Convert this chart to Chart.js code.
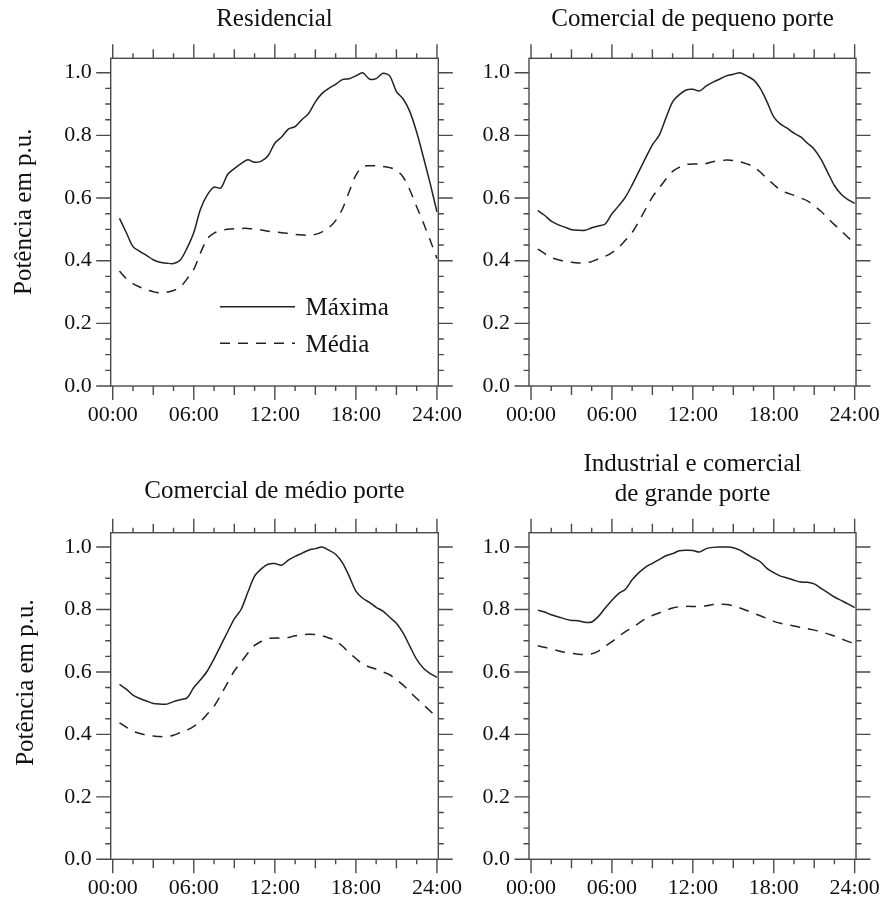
<!DOCTYPE html>
<html><head><meta charset="utf-8">
<script src="https://cdn.jsdelivr.net/npm/chart.js@4/dist/chart.umd.min.js"></script>
<style>
html,body{margin:0;padding:0;background:#fff;}
#wrap{position:relative;width:884px;height:903px;overflow:hidden;}
canvas{position:absolute;}
</style></head><body>
<div id="wrap">
<canvas id="c1" width="475" height="440" style="left:0;top:0"></canvas>
<canvas id="c2" width="442" height="440" style="left:442px;top:0"></canvas>
<canvas id="c3" width="475" height="463" style="left:0;top:440px"></canvas>
<canvas id="c4" width="442" height="463" style="left:442px;top:440px"></canvas>
</div>
<script>
// ---------- DATA ----------
const hours = [0.5,1,1.5,2,2.5,3,3.5,4,4.5,5,5.5,6,6.5,7,7.5,8,8.5,9,9.5,10,10.5,11,11.5,12,
  12.5,13,13.5,14,14.5,15,15.5,16,16.5,17,17.5,18,18.5,19,19.5,20,20.5,21,21.5,22,22.5,23,23.5,24];

const residencialMax = [0.535,0.49,0.445,0.43,0.417,0.403,0.395,0.392,0.391,0.402,0.44,0.49,
  0.565,0.61,0.635,0.632,0.675,0.694,0.71,0.722,0.714,0.718,0.735,0.775,
  0.795,0.82,0.828,0.85,0.87,0.907,0.934,0.95,0.963,0.978,0.981,0.99,
  1.0,0.98,0.981,0.998,0.99,0.94,0.916,0.875,0.81,0.73,0.646,0.556];
const residencialMed = [0.367,0.343,0.327,0.316,0.307,0.301,0.297,0.299,0.305,0.316,0.342,0.372,
  0.425,0.47,0.488,0.496,0.5,0.502,0.503,0.503,0.501,0.498,0.494,0.492,
  0.489,0.487,0.484,0.482,0.481,0.484,0.492,0.505,0.528,0.565,0.62,0.673,
  0.70,0.703,0.703,0.701,0.697,0.689,0.667,0.625,0.572,0.52,0.465,0.407];

const pequenoMax = [0.56,0.545,0.526,0.515,0.507,0.499,0.497,0.497,0.505,0.511,0.517,0.55,
  0.575,0.603,0.642,0.685,0.728,0.77,0.80,0.855,0.907,0.93,0.945,0.947,
  0.942,0.958,0.97,0.98,0.99,0.995,1.0,0.99,0.977,0.95,0.907,0.859,
  0.836,0.823,0.807,0.795,0.775,0.756,0.724,0.682,0.64,0.612,0.595,0.583];
const pequenoMed = [0.437,0.423,0.41,0.403,0.398,0.395,0.393,0.393,0.397,0.406,0.414,0.426,
  0.442,0.465,0.49,0.526,0.565,0.603,0.632,0.66,0.685,0.698,0.707,0.709,
  0.708,0.71,0.716,0.719,0.721,0.72,0.716,0.709,0.70,0.683,0.662,0.643,
  0.625,0.616,0.609,0.60,0.591,0.575,0.558,0.536,0.515,0.495,0.475,0.455];

const medioMax = [0.56,0.545,0.526,0.515,0.507,0.499,0.497,0.497,0.505,0.511,0.517,0.55,
  0.575,0.603,0.642,0.685,0.728,0.77,0.80,0.855,0.907,0.93,0.945,0.947,
  0.942,0.958,0.97,0.98,0.99,0.995,1.0,0.99,0.977,0.95,0.907,0.859,
  0.836,0.823,0.807,0.795,0.775,0.756,0.724,0.682,0.64,0.612,0.595,0.583];
const medioMed = [0.437,0.423,0.41,0.403,0.398,0.395,0.393,0.393,0.397,0.406,0.414,0.426,
  0.442,0.465,0.49,0.526,0.565,0.603,0.632,0.66,0.685,0.698,0.707,0.709,
  0.708,0.71,0.716,0.719,0.721,0.72,0.716,0.709,0.70,0.683,0.662,0.643,
  0.625,0.616,0.609,0.60,0.591,0.575,0.558,0.536,0.515,0.495,0.475,0.455];

const grandeMax = [0.798,0.792,0.783,0.777,0.77,0.765,0.764,0.759,0.76,0.778,0.805,0.83,
  0.851,0.865,0.895,0.918,0.936,0.948,0.96,0.972,0.979,0.988,0.99,0.989,
  0.984,0.995,0.999,1.0,1.0,0.998,0.99,0.977,0.965,0.953,0.932,0.918,
  0.907,0.901,0.894,0.888,0.887,0.882,0.868,0.854,0.84,0.829,0.818,0.806];
const grandeMed = [0.684,0.679,0.673,0.668,0.663,0.66,0.657,0.656,0.658,0.667,0.682,0.697,
  0.714,0.729,0.742,0.756,0.771,0.781,0.789,0.797,0.805,0.809,0.81,0.81,
  0.81,0.812,0.816,0.817,0.816,0.812,0.805,0.797,0.788,0.78,0.771,0.762,
  0.756,0.752,0.747,0.743,0.739,0.734,0.729,0.722,0.715,0.706,0.698,0.69];

const xTickValues = [0,6,12,18,24];
const xTickLabels = ['00:00','06:00','12:00','18:00','24:00'];
const yTickValues = [0,0.2,0.4,0.6,0.8,1.0];
const yTickLabels = ['0.0','0.2','0.4','0.6','0.8','1.0'];
const seriesNames = ['Máxima','Média'];
const yAxisTitle = 'Potência em p.u.';
const titles = [['Residencial'],['Comercial de pequeno porte'],['Comercial de médio porte'],['Industrial e comercial','de grande porte']];

// ---------- RENDER ----------
const FONT = "'Liberation Serif','Times New Roman',serif";
const INK = '#111';
const LINE = '#222';
const FRAME = '#4a4a4a';

const framePlugin = {
  id: 'frame',
  afterDatasetsDraw(chart, args, o) {
    const {ctx, chartArea: a, scales: {x, y}} = chart;
    ctx.save();
    ctx.strokeStyle = FRAME;
    ctx.lineWidth = 1.4;
    ctx.strokeRect(a.left, a.top, a.right - a.left, a.bottom - a.top);
    ctx.beginPath();
    for (let k = 0; k <= 16; k++) {
      const v = k * 1.5;
      const px = x.getPixelForValue(v);
      const len = (k % 4 === 0) ? 14 : (k % 2 === 0 ? 9 : 5);
      ctx.moveTo(px, a.bottom); ctx.lineTo(px, a.bottom + len);
      ctx.moveTo(px, a.top); ctx.lineTo(px, a.top - len);
    }
    for (let k = 0; k <= 20; k++) {
      const py = y.getPixelForValue(k * 0.05);
      const len = (k % 4 === 0) ? 14.5 : 5.5;
      ctx.moveTo(a.left, py); ctx.lineTo(a.left - len, py);
      ctx.moveTo(a.right, py); ctx.lineTo(a.right + len, py);
    }
    ctx.stroke();
    // y axis title
    ctx.fillStyle = INK;
    ctx.font = '25px ' + FONT;
    ctx.textAlign = 'center';
    ctx.textBaseline = 'middle';
    ctx.translate(o.yTitleX, o.yTitleY);
    ctx.rotate(-Math.PI / 2);
    ctx.fillText(yAxisTitle, 0, 0);
    ctx.restore();
    // legend
    if (o.legend) {
      const ds = chart.data.datasets;
      ctx.save();
      ctx.font = '25px ' + FONT;
      ctx.fillStyle = INK;
      ctx.textAlign = 'left';
      ctx.textBaseline = 'alphabetic';
      const rows = [{y: 306.7, base: 315}, {y: 343.3, base: 351.7}];
      ds.forEach((d, i) => {
        ctx.strokeStyle = d.borderColor;
        ctx.lineWidth = d.borderWidth;
        ctx.setLineDash(d.borderDash || []);
        ctx.beginPath();
        ctx.moveTo(220, rows[i].y); ctx.lineTo(295, rows[i].y);
        ctx.stroke();
        ctx.setLineDash([]);
        ctx.fillText(d.label, 305.5, rows[i].base);
      });
      ctx.restore();
    }
  }
};

function makeChart(id, title, maxArr, medArr, g) {
  const pts = arr => hours.map((h, i) => ({x: h, y: arr[i]}));
  return new Chart(document.getElementById(id), {
    type: 'line',
    data: {
      datasets: [
        {label: seriesNames[0], data: pts(maxArr), borderColor: LINE, borderWidth: 1.5, pointRadius: 0, tension: 0.3, fill: false},
        {label: seriesNames[1], data: pts(medArr), borderColor: LINE, borderWidth: 1.5, borderDash: [10, 8], pointRadius: 0, tension: 0.3, fill: false}
      ]
    },
    options: {
      responsive: false,
      animation: false,
      devicePixelRatio: 1,
      layout: {padding: {left: 0, right: g.rightPad, top: 0, bottom: 0}},
      plugins: {
        legend: {display: false},
        tooltip: {enabled: false},
        title: {
          display: true, text: title, fullSize: false, color: INK,
          font: {family: FONT, size: 25, weight: 'normal', lineHeight: g.titleLH},
          padding: {top: g.titleTop, bottom: g.titleBottom}
        },
        frame: {yTitleX: g.yTitleX, yTitleY: g.yTitleY, legend: g.legend}
      },
      scales: {
        x: {
          type: 'linear', min: -0.15, max: 24.1,
          grid: {display: false, drawTicks: false},
          border: {display: false},
          afterBuildTicks: s => { s.ticks = xTickValues.map(v => ({value: v})); },
          afterFit: s => { s.height = g.xH; s.paddingLeft = 0; s.paddingRight = 0; s.paddingTop = 0; s.paddingBottom = 0; },
          ticks: {
            autoSkip: false, maxRotation: 0, padding: 16, color: INK,
            font: {family: FONT, size: 22},
            callback: (v) => xTickLabels[xTickValues.indexOf(v)]
          }
        },
        y: {
          type: 'linear', min: 0, max: 1.046,
          grid: {display: false, drawTicks: false},
          border: {display: false},
          afterBuildTicks: s => { s.ticks = yTickValues.map(v => ({value: v})); },
          afterFit: s => { s.width = g.yW; s.paddingLeft = 0; s.paddingRight = 0; s.paddingTop = 0; s.paddingBottom = 0; },
          ticks: {
            padding: 19, color: INK,
            font: {family: FONT, size: 22},
            callback: (v) => yTickLabels[yTickValues.indexOf(v)]
          }
        }
      }
    },
    plugins: [framePlugin]
  });
}

makeChart('c1', titles[0], residencialMax, residencialMed,
  {rightPad: 36.7, yW: 110.7, xH: 54, titleLH: 1.2, titleTop: 4, titleBottom: 24.3, yTitleX: 24, yTitleY: 211.7, legend: true});
makeChart('c2', titles[1], pequenoMax, pequenoMed,
  {rightPad: 28, yW: 87, xH: 54, titleLH: 1.2, titleTop: 4, titleBottom: 24.3, yTitleX: -100, yTitleY: -100, legend: false});
makeChart('c3', titles[2], medioMax, medioMed,
  {rightPad: 36.7, yW: 110.7, xH: 43.7, titleLH: 1.2, titleTop: 36.5, titleBottom: 26.2, yTitleX: 26.5, yTitleY: 242.5, legend: false});
makeChart('c4', titles[3], grandeMax, grandeMed,
  {rightPad: 28, yW: 87, xH: 43.7, titleLH: 1.176, titleTop: 10.1, titleBottom: 23.8, yTitleX: -100, yTitleY: -100, legend: false});
</script>
</body></html>
